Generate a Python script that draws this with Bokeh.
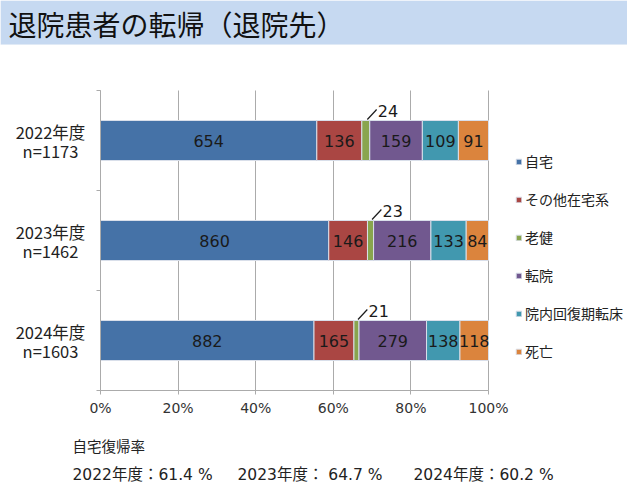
from bokeh.plotting import figure
from bokeh.models import (ColumnDataSource, Range1d, FixedTicker, Legend, LegendItem,
                          CustomJSTickFormatter, BoxAnnotation, Grid)
from bokeh.core.properties import value
from bokeh.embed import file_html
from bokeh.resources import INLINE

# data
years = ["2022年度", "2023年度", "2024年度"]
totals = ["n=1173", "n=1462", "n=1603"]
categories = ["自宅", "その他在宅系", "老健", "転院", "院内回復期転床", "死亡"]
home = [654, 860, 882]
other_home = [136, 146, 165]
roken = [24, 23, 21]
tenin = [159, 216, 279]
kaifuku = [109, 133, 138]
death = [91, 84, 118]
rate_title = "自宅復帰率"
rate_labels = ["2022年度：61.4 %", "2023年度： 64.7 %", "2024年度：60.2 %"]
pct_ticks = [0, 0.2, 0.4, 0.6, 0.8, 1.0]
colors = ["#4572A7", "#AA4643", "#89A54E", "#71588F", "#4198AF", "#DB843D"]
title = "退院患者の転帰（退院先）"

JP = "Noto Sans CJK JP"
NUM = "DejaVu Sans"
MIX = "DejaVu Sans, Noto Sans CJK JP"
W, H = 627, 496
# bar area in canvas pixels
X0, X1, Y0, Y1 = 100, 488, 90, 390


def px(x):
    return (x - X0) / (X1 - X0)


def py(y):
    return (y - Y0) / (Y1 - Y0) * 3


series = [home, other_home, roken, tenin, kaifuku, death]
keys = ["s%d" % i for i in range(len(series))]
ypos = [0.5, 1.5, 2.5]
n = [sum(col) for col in zip(*series)]

data = {"y": ypos}
for k, s in zip(keys, series):
    data[k] = [v / t for v, t in zip(s, n)]
src = ColumnDataSource(data)

p = figure(width=W, height=H, output_backend="svg", toolbar_location=None,
           x_range=Range1d(px(0), px(W)), y_range=Range1d(py(H), py(0)), min_border=0)
p.outline_line_color = None

# header band
p.add_layout(BoxAnnotation(top=py(0), bottom=py(44), fill_color="#C6D9F1", fill_alpha=1,
                           line_color="#DCE6F2", line_width=1, level="underlay"))
p.text(x=[px(8)], y=[py(23)], text=[title], text_baseline="middle",
       text_font=value(JP), text_font_size="28px", text_color="#111111")

# axes inside the canvas-wide frame
p.ygrid.visible = False
if "cross_bounds" in Grid.properties():
    p.xgrid.ticker = FixedTicker(ticks=pct_ticks)
    p.xgrid.cross_bounds = (0, 3)
    p.xgrid.grid_line_color = "#ABABAB"
else:
    p.xgrid.visible = False
    p.segment(x0=pct_ticks, y0=[0] * len(pct_ticks), x1=pct_ticks, y1=[3] * len(pct_ticks),
              line_color="#ABABAB", line_width=1)

p.xaxis.fixed_location = 3
p.xaxis.bounds = (0, 1)
p.xaxis.ticker = FixedTicker(ticks=pct_ticks)
p.xaxis.formatter = CustomJSTickFormatter(code="return Math.round(tick*100) + '%';")
p.xaxis.axis_line_color = "#ABABAB"
p.xaxis.major_tick_line_color = "#ABABAB"
p.xaxis.major_tick_out = 4
p.xaxis.major_tick_in = 0
p.xaxis.minor_tick_line_color = None
p.xaxis.major_label_text_font = NUM
p.xaxis.major_label_text_font_size = "14px"
p.xaxis.major_label_text_color = "#333333"
p.xaxis.major_label_standoff = 5

# y axis: only the boundary ticks between the categories
p.yaxis.fixed_location = 0
p.yaxis.bounds = (0, 3)
p.yaxis.ticker = FixedTicker(ticks=[], minor_ticks=[0, 1, 2, 3])
p.yaxis.axis_line_color = "#ABABAB"
p.yaxis.major_tick_line_color = None
p.yaxis.minor_tick_line_color = "#ABABAB"
p.yaxis.minor_tick_out = 4
p.yaxis.minor_tick_in = 0

# category labels, two centred lines each
p.text(x=[px(50)] * len(ypos), y=[y - 0.09 for y in ypos], text=years,
       text_align="center", text_baseline="middle",
       text_font=value(JP), text_font_size="16.5px", text_color="#222222")
p.text(x=[px(50)] * len(ypos), y=[y + 0.10 for y in ypos], text=totals,
       text_align="center", text_baseline="middle",
       text_font=value(JP), text_font_size="16.5px", text_color="#222222")

bars = p.hbar_stack(keys, y="y", height=0.4, color=colors, source=src,
                    line_color="#D9DFEA", line_width=1)

# value labels inside the segments, the small one pulled out with a leader
lx, ly, lt = [], [], []
sx0, sy0, sx1, sy1, tx, ty, tt = [], [], [], [], [], [], []
for j, y in enumerate(ypos):
    cum = 0.0
    for s in series:
        w = s[j] / n[j]
        mid = cum + w / 2
        if s is roken:
            sx0.append(mid + 0.004); sy0.append(y - 0.21)
            sx1.append(mid + 0.028); sy1.append(y - 0.31)
            tx.append(mid + 0.031); ty.append(y - 0.30); tt.append(str(s[j]))
        else:
            lx.append(mid); ly.append(y); lt.append(str(s[j]))
        cum += w

p.text(x=lx, y=ly, text=lt, text_align="center", text_baseline="middle",
       text_font=value(NUM), text_font_size="16px", text_color="#1A1A1A")
p.segment(x0=sx0, y0=sy0, x1=sx1, y1=sy1, line_color="#1A1A1A", line_width=1.2)
p.text(x=tx, y=ty, text=tt, text_align="left", text_baseline="middle",
       text_font=value(NUM), text_font_size="16px", text_color="#1A1A1A")

legend = Legend(items=[LegendItem(label=c, renderers=[r]) for c, r in zip(categories, bars)],
                location=(515, H - 361), padding=0, margin=0, spacing=18,
                glyph_width=7, glyph_height=7, label_standoff=3, label_height=20,
                border_line_color=None, background_fill_alpha=0,
                label_text_font=JP, label_text_font_size="14px", label_text_color="#222222")
p.add_layout(legend, "center")

# home return rates below the chart
p.text(x=[px(72)], y=[py(445)], text=[rate_title], text_baseline="middle",
       text_font=value(JP), text_font_size="14.5px", text_color="#222222")
p.text(x=[px(72), px(237), px(413)], y=[py(474)] * 3, text=rate_labels, text_baseline="middle",
       text_font=value(MIX), text_font_size="15.5px", text_color="#222222")

open("out.html", "w").write(file_html(p, INLINE))
